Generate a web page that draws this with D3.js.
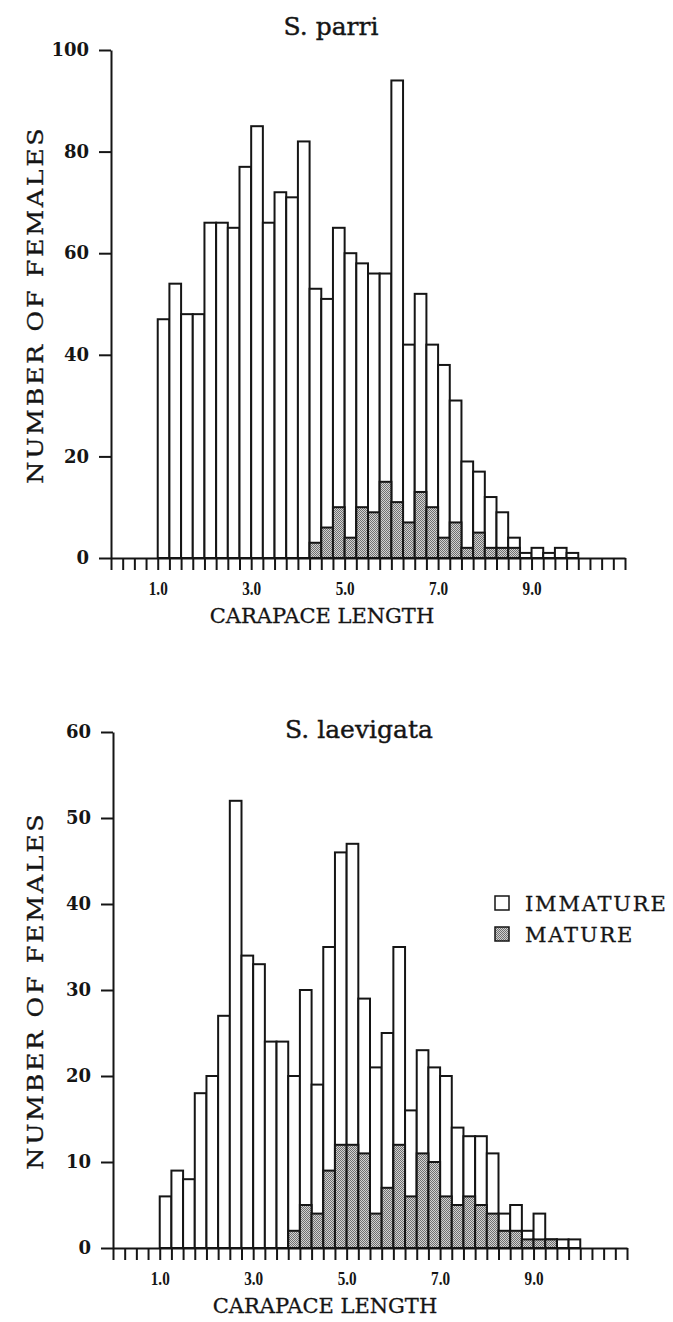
<!DOCTYPE html>
<html>
<head>
<meta charset="utf-8">
<script src="https://cdn.jsdelivr.net/npm/d3@7"></script>
<style>
  body { margin: 0; background: #fff; }
  svg { display: block; }
  text { font-family: "DejaVu Serif", serif; fill: #151515; }
</style>
</head>
<body>
<svg id="chart" width="673" height="1322"></svg>
<script>
// carapace length bins (left edge), 0.25 wide
const binStart = [0, 0.25, 0.5, 0.75, 1, 1.25, 1.5, 1.75, 2, 2.25, 2.5, 2.75,
  3, 3.25, 3.5, 3.75, 4, 4.25, 4.5, 4.75, 5, 5.25, 5.5, 5.75,
  6, 6.25, 6.5, 6.75, 7, 7.25, 7.5, 7.75, 8, 8.25, 8.5, 8.75,
  9, 9.25, 9.5, 9.75, 10, 10.25, 10.5, 10.75];

// S. parri: all females per bin, and the mature ones
const parriTotal = [0, 0, 0, 0, 47, 54, 48, 48, 66, 66, 65, 77,
  85, 66, 72, 71, 82, 53, 51, 65, 60, 58, 56, 56,
  94, 42, 52, 42, 38, 31, 19, 17, 12, 9, 4, 1,
  2, 1, 2, 1, 0, 0, 0, 0];
const parriMature = [0, 0, 0, 0, 0, 0, 0, 0, 0, 0, 0, 0,
  0, 0, 0, 0, 0, 3, 6, 10, 4, 10, 9, 15,
  11, 7, 13, 10, 4, 7, 2, 5, 2, 2, 2, 0,
  0, 0, 0, 0, 0, 0, 0, 0];

// S. laevigata
const laevTotal = [0, 0, 0, 0, 6, 9, 8, 18, 20, 27, 52, 34,
  33, 24, 24, 20, 30, 19, 35, 46, 47, 29, 21, 25,
  35, 16, 23, 21, 20, 14, 13, 13, 11, 4, 5, 2,
  4, 1, 1, 1, 0, 0, 0, 0];
const laevMature = [0, 0, 0, 0, 0, 0, 0, 0, 0, 0, 0, 0,
  0, 0, 0, 2, 5, 4, 9, 12, 12, 11, 4, 7,
  12, 6, 11, 10, 6, 5, 6, 5, 4, 2, 2, 1,
  1, 1, 0, 0, 0, 0, 0, 0];

const xTickValues = [1, 3, 5, 7, 9];
const xTickLabels = ["1.0", "3.0", "5.0", "7.0", "9.0"];
const parriYTicks = [0, 20, 40, 60, 80, 100];
const laevYTicks = [0, 10, 20, 30, 40, 50, 60];
const legendLabels = ["IMMATURE", "MATURE"];

const BIN = 0.25;
const INK = "#151515";
const svg = d3.select("#chart");

// stippled fill for mature females
const pat = svg.append("defs").append("pattern")
  .attr("id", "stipple")
  .attr("patternUnits", "userSpaceOnUse")
  .attr("width", 2).attr("height", 2);
pat.append("rect").attr("width", 2).attr("height", 2).attr("fill", "#d2d2d2");
pat.append("rect").attr("width", 1).attr("height", 1).attr("fill", "#707070");
pat.append("rect").attr("x", 1).attr("y", 1).attr("width", 1).attr("height", 1).attr("fill", "#707070");

function drawPanel(p) {
  const x = d3.scaleLinear().domain([0, 11]).range([p.left, p.right]);
  const y = d3.scaleLinear().domain([0, p.yMax]).range([p.base, p.top]);
  const g = svg.append("g");

  const rows = binStart.map((b, i) => ({b: b, total: p.total[i], mature: p.mature[i]}));

  g.selectAll("rect.total")
    .data(rows.filter(d => d.total > 0))
    .join("rect")
    .attr("class", "total")
    .attr("x", d => x(d.b))
    .attr("width", d => x(d.b + BIN) - x(d.b))
    .attr("y", d => y(d.total))
    .attr("height", d => p.base - y(d.total))
    .attr("fill", "#fff")
    .attr("stroke", INK)
    .attr("stroke-width", 2);

  g.selectAll("rect.mature")
    .data(rows.filter(d => d.mature > 0))
    .join("rect")
    .attr("class", "mature")
    .attr("x", d => x(d.b))
    .attr("width", d => x(d.b + BIN) - x(d.b))
    .attr("y", d => y(d.mature))
    .attr("height", d => p.base - y(d.mature))
    .attr("fill", "url(#stipple)")
    .attr("stroke", INK)
    .attr("stroke-width", 2);

  // x axis: a tick at every bin edge, labels only on the odd units
  const xAxis = d3.axisBottom(x)
    .tickValues(binStart.concat([11]))
    .tickSize(12)
    .tickSizeOuter(0)
    .tickFormat(d => {
      const k = xTickValues.indexOf(d);
      return k < 0 ? "" : xTickLabels[k];
    });
  const gx = g.append("g").attr("transform", `translate(0,${p.base})`).call(xAxis);
  gx.select(".domain").attr("stroke", INK).attr("stroke-width", 2);
  gx.selectAll(".tick line").attr("stroke", INK).attr("stroke-width", 2);
  gx.selectAll(".tick text")
    .attr("y", 23.5)
    .attr("fill", INK)
    .style("font-family", "'Liberation Serif', serif")
    .style("font-size", "19px")
    .style("font-weight", "bold")
    .filter(function() { return this.textContent !== ""; })
    .attr("textLength", 19)
    .attr("lengthAdjust", "spacingAndGlyphs");

  const yAxis = d3.axisLeft(y)
    .tickValues(p.yTicks)
    .tickSize(12)
    .tickSizeOuter(0)
    .tickPadding(10)
    .tickFormat(d3.format("d"));
  const gy = g.append("g").attr("transform", `translate(${p.left},0)`).call(yAxis);
  gy.select(".domain").attr("stroke", INK).attr("stroke-width", 2);
  gy.selectAll(".tick line").attr("stroke", INK).attr("stroke-width", 2);
  gy.selectAll(".tick text")
    .attr("fill", INK)
    .style("font-family", "'DejaVu Serif', serif")
    .style("font-size", "18px")
    .style("font-weight", "bold");

  g.append("text")
    .attr("x", p.titleX).attr("y", p.titleY)
    .attr("text-anchor", "middle")
    .style("font-size", "25px")
    .style("stroke", INK).style("stroke-width", 0.4)
    .text(p.title);

  g.append("text")
    .attr("x", p.xLabelX).attr("y", p.base + 65)
    .attr("text-anchor", "middle")
    .style("font-size", "21px")
    .style("stroke", INK).style("stroke-width", 0.3)
    .text("CARAPACE LENGTH");

  // wide serif caps: stretch glyphs a little, then pad spacing to full length
  g.append("text")
    .attr("transform", `translate(43,${(p.top + p.base) / 2 + 2}) rotate(-90) scale(1.15,1)`)
    .attr("text-anchor", "middle")
    .attr("textLength", 309)
    .attr("lengthAdjust", "spacing")
    .style("font-size", "22px")
    .style("stroke", INK).style("stroke-width", 0.3)
    .text("NUMBER OF FEMALES");

  return g;
}

drawPanel({
  title: "S. parri", titleX: 331, titleY: 35,
  total: parriTotal, mature: parriMature,
  yMax: 100, yTicks: parriYTicks,
  left: 111, right: 625, top: 50, base: 558, xLabelX: 322
});

const lower = drawPanel({
  title: "S. laevigata", titleX: 359, titleY: 738,
  total: laevTotal, mature: laevMature,
  yMax: 60, yTicks: laevYTicks,
  left: 113, right: 627, top: 732, base: 1248, xLabelX: 325
});

// legend
const leg = lower.append("g");
legendLabels.forEach((lab, i) => {
  const yy = 911 + i * 31;
  leg.append("rect")
    .attr("x", 495).attr("y", yy - 15)
    .attr("width", 14).attr("height", 14)
    .attr("fill", i === 0 ? "#fff" : "url(#stipple)")
    .attr("stroke", INK).attr("stroke-width", 1.5);
  leg.append("text")
    .attr("x", 525).attr("y", yy)
    .style("font-size", "21px")
    .style("letter-spacing", "1.8px")
    .style("stroke", INK).style("stroke-width", 0.3)
    .text(lab);
});
</script>
</body>
</html>
